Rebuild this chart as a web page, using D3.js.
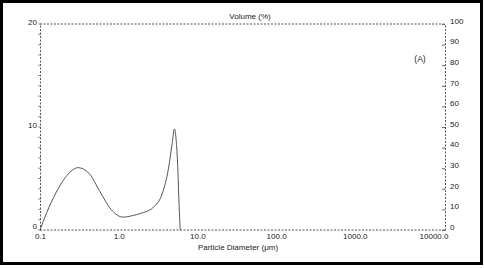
<!DOCTYPE html>
<html>
<head>
<meta charset="utf-8">
<script src="https://cdn.jsdelivr.net/npm/d3@7"></script>
<style>
  body { margin: 0; background: #fff; }
  svg text { font-family: "Liberation Sans", Arial, sans-serif; fill: #222; }
</style>
</head>
<body>
<svg id="chart" width="484" height="268"></svg>
<script>
// datos
var diameters = [0.1, 0.13, 0.17, 0.22, 0.305, 0.42, 0.58, 0.8, 1.14, 1.5, 1.88, 2.75, 3.6, 4.3, 4.8, 5.1, 5.4, 5.6, 5.85, 6.05];
var volumes   = [0,   2.2,  4.0,  5.3,  6.05,  5.5,  3.7,  2.0, 1.25, 1.4, 1.6,  2.2,  3.6,  6.0,  8.5,  9.8,  8.5,  6.5,  2.5,  0];
var xTicks = [0.1, 1, 10, 100, 1000, 10000];
var xTickLabels = ["0.1", "1.0", "10.0", "100.0", "1000.0", "10000.0"];
var yLeftTicks = [0, 10, 20];
var yRightTicks = [0, 10, 20, 30, 40, 50, 60, 70, 80, 90, 100];

var svg = d3.select("#chart");
var pLeft = 40, pRight = 445, pTop = 24, pBottom = 230;

var x = d3.scaleLog().domain([0.1, 14000]).range([pLeft, pRight]);
var y = d3.scaleLinear().domain([0, 20]).range([pBottom, pTop]);
var y2 = d3.scaleLinear().domain([0, 100]).range([pBottom, pTop]);

// marco
svg.append("rect")
  .attr("x", 1.5).attr("y", 1.5).attr("width", 480).attr("height", 262)
  .attr("fill", "none").attr("stroke", "#000").attr("stroke-width", 3);

// ejes punteados
var dash = "2,1.5";
svg.append("line").attr("x1", pLeft).attr("x2", pRight).attr("y1", pTop).attr("y2", pTop)
  .attr("stroke", "#555").attr("stroke-dasharray", dash);
svg.append("line").attr("x1", pLeft).attr("x2", pRight).attr("y1", pBottom).attr("y2", pBottom)
  .attr("stroke", "#555").attr("stroke-dasharray", dash);

// eje izquierdo
var gl = svg.append("g").attr("transform", "translate(" + pLeft + ",0)")
  .call(d3.axisLeft(y).tickValues(yLeftTicks).tickSize(0).tickPadding(3));
gl.select(".domain").attr("stroke", "#555").attr("stroke-dasharray", dash);
gl.selectAll("text").attr("font-size", 8)
  .attr("dy", function(d) { return d === 0 ? "-0.15em" : "0.1em"; });
// marcas menores
svg.append("g").selectAll("line")
  .data(d3.range(0, 20.01, 1))
  .enter().append("line")
  .attr("x1", pLeft - 2).attr("x2", pLeft + 1)
  .attr("y1", function(d) { return y(d); }).attr("y2", function(d) { return y(d); })
  .attr("stroke", "#666").attr("stroke-width", 0.7);

// eje derecho
var gr = svg.append("g").attr("transform", "translate(" + pRight + ",0)")
  .call(d3.axisRight(y2).tickValues(yRightTicks).tickSize(-3).tickPadding(5));
gr.select(".domain").attr("stroke", "#555").attr("stroke-dasharray", dash);
gr.selectAll(".tick line").attr("stroke", "#666");
gr.selectAll("text").attr("font-size", 8).attr("dy", "-0.1em");

// eje x
var gx = svg.append("g").attr("transform", "translate(0," + pBottom + ")")
  .call(d3.axisBottom(x).tickValues(xTicks).tickSize(0).tickPadding(3)
    .tickFormat(function(d, i) { return xTickLabels[i]; }));
gx.select(".domain").remove();
gx.selectAll("text").attr("font-size", 8);

// titulos
svg.append("text").attr("x", 238).attr("y", 250).attr("text-anchor", "middle")
  .attr("font-size", 8).text("Particle Diameter (μm)");
svg.append("text").attr("x", 250).attr("y", 19).attr("text-anchor", "middle")
  .attr("font-size", 8).text("Volume (%)");
svg.append("text").attr("x", 420).attr("y", 62).attr("text-anchor", "middle")
  .attr("font-size", 8.5).text("(A)");

// curva
var line = d3.line()
  .x(function(d, i) { return x(diameters[i]); })
  .y(function(d) { return y(d); })
  .curve(d3.curveMonotoneX);
svg.append("path").datum(volumes)
  .attr("d", line)
  .attr("fill", "none").attr("stroke", "#555").attr("stroke-width", 1);
</script>
</body>
</html>
